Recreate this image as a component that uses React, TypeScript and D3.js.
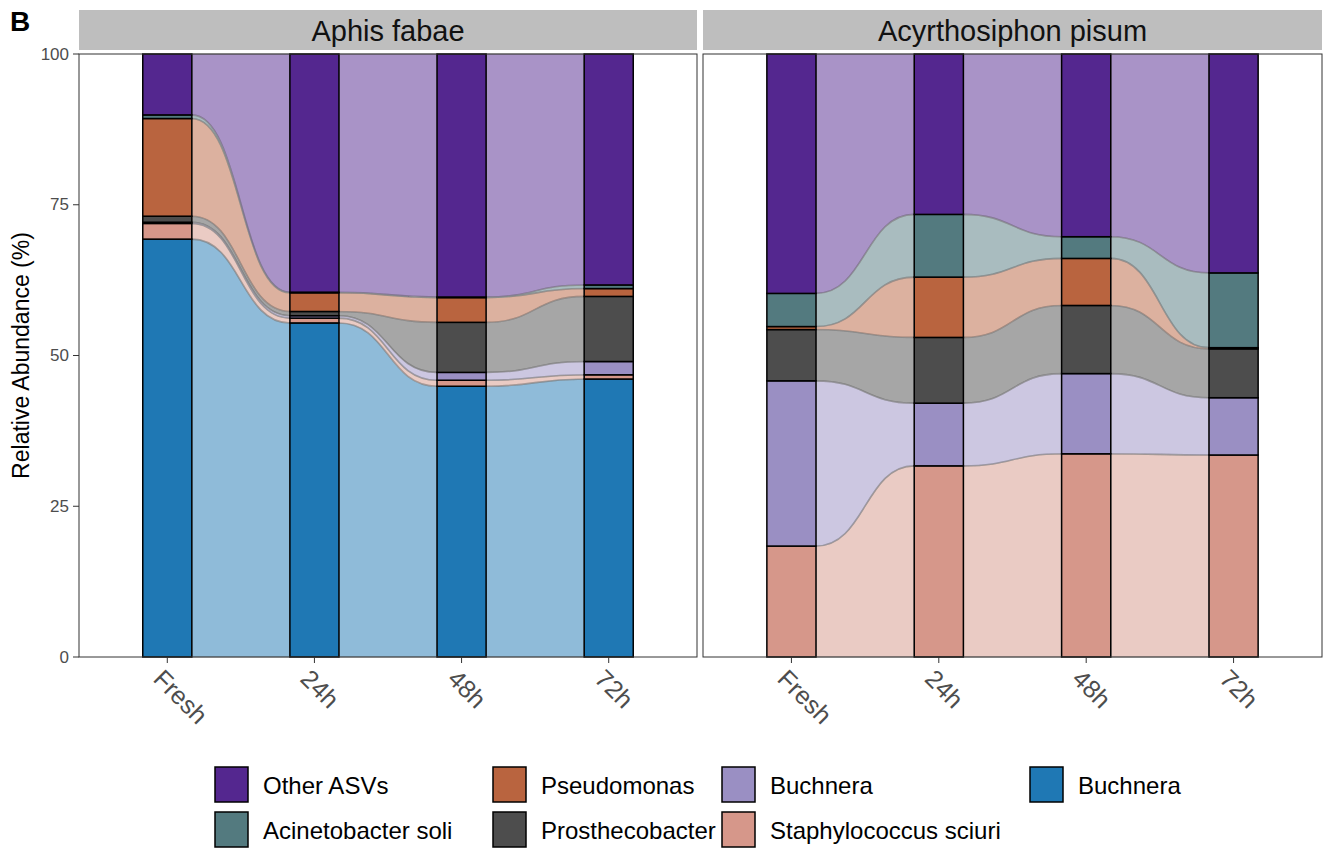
import React from "react";
import * as d3 from "d3";

const TIMES = ["Fresh", "24h", "48h", "72h"];
const PANELS = ["Aphis fabae", "Acyrthosiphon pisum"];

// stacking order from bottom to top
const TAXA_KEYS = ["buchneraBlue", "staph", "buchneraPurple", "prostheco", "pseudo", "acineto", "other"];
const TAXA_LABELS = ["Buchnera", "Staphylococcus sciuri", "Buchnera", "Prosthecobacter", "Pseudomonas", "Acinetobacter soli", "Other ASVs"];
const TAXA_COLORS = ["#1F78B4", "#D6978A", "#9A8FC3", "#4D4D4D", "#B9643F", "#537A7F", "#54278F"];

// Aphis fabae (% per time point)
const afBuchneraBlue = [69.3, 55.4, 44.9, 46.1];
const afStaph = [2.6, 0.8, 1.0, 0.7];
const afBuchneraPurple = [0.2, 0.4, 1.3, 2.2];
const afProstheco = [1.0, 0.7, 8.3, 10.8];
const afPseudo = [16.2, 3.1, 4.1, 1.3];
const afAcineto = [0.6, 0.1, 0.1, 0.6];
const afOther = [10.1, 39.5, 40.3, 38.3];

// Acyrthosiphon pisum
const apBuchneraBlue = [0, 0, 0, 0];
const apStaph = [18.4, 31.7, 33.7, 33.5];
const apBuchneraPurple = [27.4, 10.4, 13.3, 9.5];
const apProstheco = [8.5, 10.9, 11.3, 8.1];
const apPseudo = [0.5, 10.0, 7.8, 0.2];
const apAcineto = [5.5, 10.4, 3.6, 12.4];
const apOther = [39.7, 26.6, 30.3, 36.3];

const Y_TICKS = [0, 25, 50, 75, 100];

// legend: column-major order in 2 rows
const LEGEND_ORDER = [6, 5, 4, 3, 2, 1, 0];

const panelData = [
  [afBuchneraBlue, afStaph, afBuchneraPurple, afProstheco, afPseudo, afAcineto, afOther],
  [apBuchneraBlue, apStaph, apBuchneraPurple, apProstheco, apPseudo, apAcineto, apOther],
];

const FONT = "'Liberation Sans', Arial, Helvetica, sans-serif";

export default function App() {
  const W = 1325, H = 856;
  const top = 54, bottom = 657;
  const panelX = [[79, 697], [703, 1322]];
  const y = d3.scaleLinear().domain([0, 100]).range([bottom, top]);

  const panels = PANELS.map((name, p) => {
    const [x0, x1] = panelX[p];
    const x = d3.scaleLinear().domain([0.4, 4.6]).range([x0, x1]);
    const bw = (x(2) - x(1)) / 3;
    const series = panelData[p];
    const stacks = TIMES.map((_, t) => {
      let acc = 0;
      return series.map((s) => {
        const b = acc;
        acc += s[t];
        return [b, acc];
      });
    });
    const flows: any[] = [];
    const bars: any[] = [];
    for (let t = 0; t < TIMES.length - 1; t++) {
      const xa = x(t + 1) + bw / 2;
      const xb = x(t + 2) - bw / 2;
      const xm = (xa + xb) / 2;
      series.forEach((s, k) => {
        const [b0, t0] = stacks[t][k];
        const [b1, t1] = stacks[t + 1][k];
        if (t0 - b0 <= 0 && t1 - b1 <= 0) return;
        const path = d3.path();
        path.moveTo(xa, y(t0));
        path.bezierCurveTo(xm, y(t0), xm, y(t1), xb, y(t1));
        path.lineTo(xb, y(b1));
        path.bezierCurveTo(xm, y(b1), xm, y(b0), xa, y(b0));
        path.closePath();
        flows.push(
          <path key={`f${t}-${k}`} d={path.toString()} fill={TAXA_COLORS[k]} fillOpacity={0.5}
            stroke="#7f7f7f" strokeOpacity={0.45} strokeWidth={1.6} />
        );
      });
    }
    TIMES.forEach((_, t) => {
      series.forEach((s, k) => {
        const [b0, t0] = stacks[t][k];
        if (t0 - b0 <= 0) return;
        bars.push(
          <rect key={`b${t}-${k}`} x={x(t + 1) - bw / 2} y={y(t0)} width={bw} height={y(b0) - y(t0)}
            fill={TAXA_COLORS[k]} stroke="#000" strokeWidth={1.5} />
        );
      });
    });
    return (
      <g key={name}>
        <rect x={x0} y={10} width={x1 - x0} height={40} fill="#BEBEBE" />
        <text x={(x0 + x1) / 2} y={31} textAnchor="middle" dominantBaseline="central"
          fontSize={29} fontFamily={FONT} fill="#111">{name}</text>
        {flows}
        {bars}
        <rect x={x0} y={top} width={x1 - x0} height={bottom - top} fill="none" stroke="#333" strokeWidth={1} />
        {TIMES.map((lab, t) => (
          <g key={lab}>
            <line x1={x(t + 1)} x2={x(t + 1)} y1={bottom} y2={bottom + 6} stroke="#333" strokeWidth={1} />
            <text transform={`translate(${x(t + 1) - 9},${bottom + 17}) rotate(45)`} textAnchor="start"
              dominantBaseline="central" fontSize={25} fontFamily={FONT} fill="#4d4d4d">{lab}</text>
          </g>
        ))}
      </g>
    );
  });

  const legendCols = [215, 493, 722, 1030];
  const legendRows = [767, 812];

  return (
    <svg width={W} height={H} style={{ display: "block", position: "absolute", left: 0, top: 0 }}>
      <rect width={W} height={H} fill="#fff" />
      <text x={10} y={31} fontSize={28} fontWeight="bold" fontFamily={FONT} fill="#000">B</text>
      {panels}
      {Y_TICKS.map((v) => (
        <g key={v}>
          <line x1={73} x2={79} y1={y(v)} y2={y(v)} stroke="#333" strokeWidth={1} />
          <text x={69} y={y(v)} textAnchor="end" dominantBaseline="central" fontSize={17}
            fontFamily={FONT} fill="#4d4d4d">{v}</text>
        </g>
      ))}
      <text transform={`translate(21,${(top + bottom) / 2}) rotate(-90)`} textAnchor="middle"
        dominantBaseline="central" fontSize={23} fontFamily={FONT} fill="#000">Relative Abundance (%)</text>
      {LEGEND_ORDER.map((k, i) => {
        const col = Math.floor(i / 2);
        const row = i % 2;
        const lx = legendCols[col];
        const ly = legendRows[row];
        return (
          <g key={i}>
            <rect x={lx} y={ly} width={33} height={35} fill={TAXA_COLORS[k]} stroke="#000" strokeWidth={1.5} />
            <text x={lx + 48} y={ly + 18} dominantBaseline="central" fontSize={24} fontFamily={FONT}
              fill="#000">{TAXA_LABELS[k]}</text>
          </g>
        );
      })}
    </svg>
  );
}
